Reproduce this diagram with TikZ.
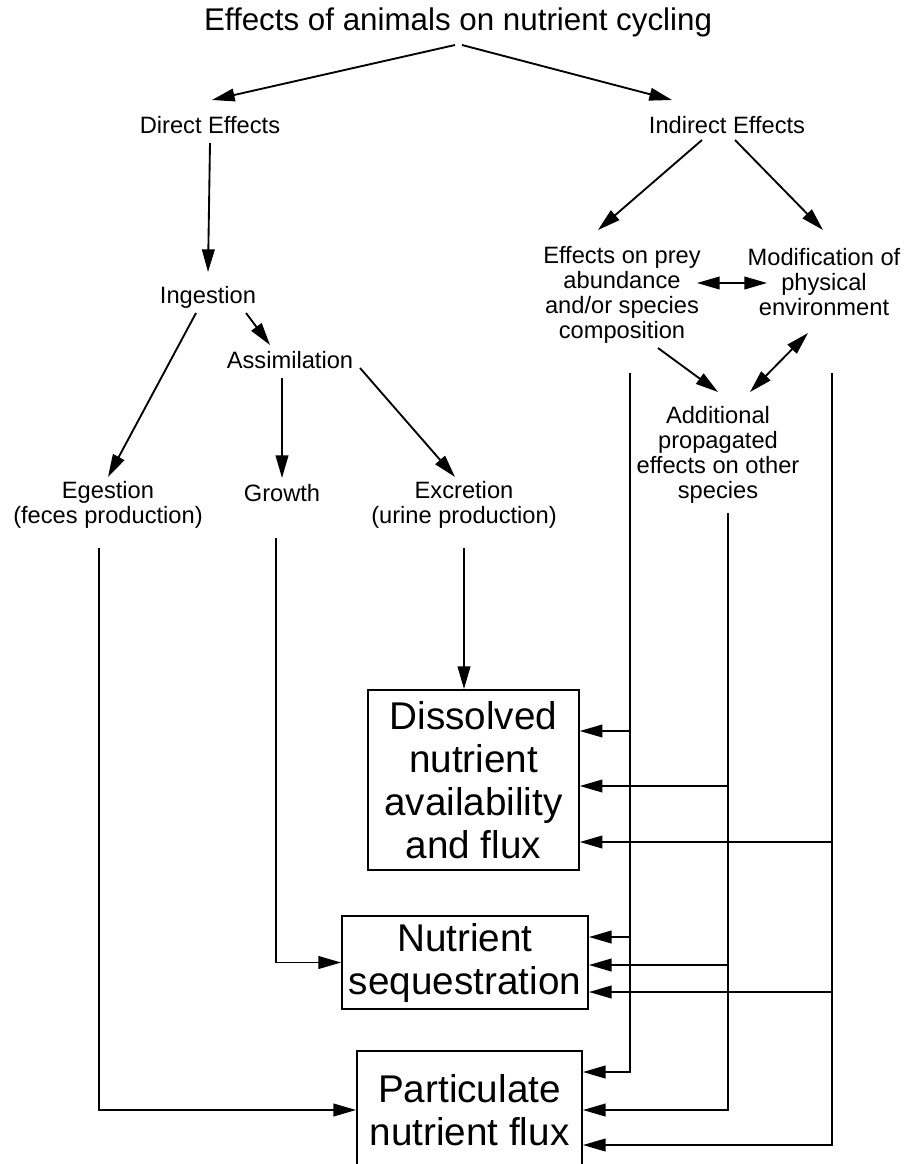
\documentclass[tikz,border=0pt]{standalone}
\usepackage{fontspec}
\setmainfont{Liberation Sans}
\usetikzlibrary{arrows.meta}

\begin{document}
\begin{tikzpicture}[x=0.75pt,y=-0.75pt,>={Triangle[length=17pt,width=9.5pt]},line width=1.4pt]
\tikzstyle{lbl}=[align=center,inner sep=0pt,font=\fontsize{17.75}{18.75}\selectfont]
\tikzstyle{bigbox}=[draw,line width=1.4pt,align=center,inner sep=0pt,font=\fontsize{29}{32.25}\selectfont]
\clip (0,0) rectangle (924,1164);
% top levels
\node[inner sep=0pt,font=\fontsize{23.5}{27}\selectfont] (title) at (458,22) {Effects of animals on nutrient cycling};
\node[lbl] (dir) at (210,125) {Direct Effects};
\node[lbl] (ind) at (727,125) {Indirect Effects};
% direct branch
\node[lbl] (ing) at (208,297) {Ingestion};
\node[lbl] (assim) at (290,360) {Assimilation};
\node[lbl] (eges) at (108,505) {Egestion\\(feces production)};
\node[lbl] (grow) at (282,493) {Growth};
\node[lbl] (excr) at (464,505) {Excretion\\(urine production)};
% indirect branch
\node[lbl] (prey) at (622,295) {Effects on prey\\abundance\\and/or species\\composition};
\node[lbl] (modif) at (824,282) {Modification of\\physical\\environment};
\node[lbl] (addl) at (718,455) {Additional\\propagated\\effects on other\\species};
% outcome boxes
\node[bigbox,minimum width=158pt,minimum height=135pt] (diss) at (473.5,780) {Dissolved\\nutrient\\availability\\and flux};
\node[bigbox,minimum width=184.5pt,minimum height=69.75pt] (seq) at (465,962.5) {Nutrient\\sequestration};
\node[bigbox,minimum width=168.75pt,minimum height=88.5pt] (part) at (469.5,1110) {Particulate\\nutrient flux};

\draw[->] ([shift={(-3,23)}]title.center) -- ([shift={(2,-25)}]dir.center);
\draw[->] ([shift={(4,23)}]title.center) -- ([shift={(-55,-25)}]ind.center);
\draw[->] ([shift={(0,18)}]dir.center) -- ([shift={(0,-25)}]ing.center);
\draw[->] ([shift={(-12,16)}]ing.center) -- ([shift={(0,-28)}]eges.center);
\draw[->] ([shift={(38,16)}]ing.center) -- ([shift={(-20,-15)}]assim.center);
\draw[->] ([shift={(-8,18)}]assim.center) -- ([shift={(0,-15)}]grow.center);
\draw[->] ([shift={(70,8)}]assim.center) -- ([shift={(-9,-28)}]excr.center);
\draw[->] ([shift={(-25,15)}]ind.center) -- ([shift={(-24,-65)}]prey.center);
\draw[->] ([shift={(8,15)}]ind.center) -- ([shift={(-1,-52)}]modif.center);
\draw[<->] ([shift={(75,-12)}]prey.center) -- ([shift={(-57,1)}]modif.center);
\draw[->] ([shift={(36,53)}]prey.center) -- ([shift={(0,-63)}]addl.center);
\draw[<->] ([shift={(32,-63)}]addl.center) -- ([shift={(-16,51)}]modif.center);
\draw[->] ([shift={(0,43)}]excr.center) -- (excr |- diss.north);
\draw[->] ([shift={(-6,45)}]grow.center) |- (seq.west);
\draw[->] ([shift={(-9,43)}]eges.center) |- (part.west);

% vertical feeds on the right
\coordinate (preytop) at ([shift={(8,78)}]prey.center);
\coordinate (addltop) at ([shift={(10,58)}]addl.center);
\coordinate (modiftop) at ([shift={(8,91)}]modif.center);
\foreach \bx/\dy/\top in {diss/-49/preytop,diss/6/addltop,diss/62/modiftop,
  seq/-25.5/preytop,seq/2.5/addltop,seq/29.5/modiftop,
  part/-38/preytop,part/0/addltop,part/35/modiftop}
  \draw[<-] ([shift={(0,\dy)}]\bx.east) -| (\top);
\end{tikzpicture}
\end{document}
